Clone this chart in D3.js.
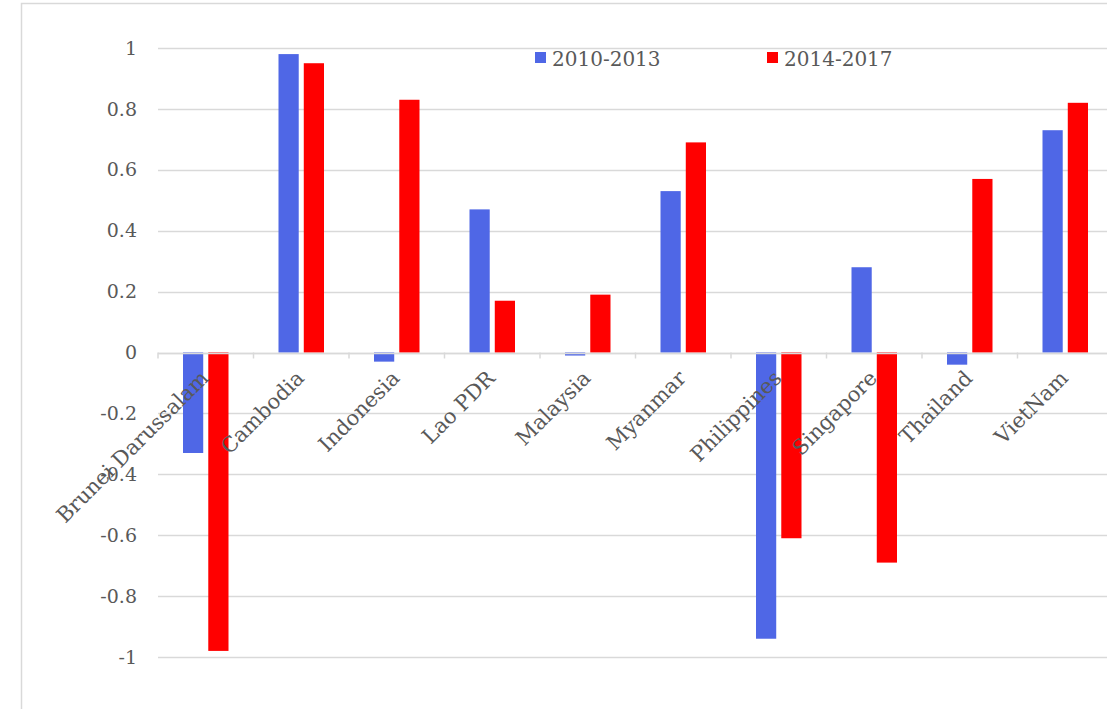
<!DOCTYPE html>
<html><head><meta charset="utf-8">
<script src="https://cdn.jsdelivr.net/npm/d3@7"></script>
<style>body{margin:0;background:#fff}svg{display:block}</style>
</head><body>
<script>
const categories = ["Brunei Darussalam","Cambodia","Indonesia","Lao PDR","Malaysia","Myanmar","Philippines","Singapore","Thailand","VietNam"];
const series1Name = "2010-2013";
const series2Name = "2014-2017";
const series1 = [-0.33, 0.98, -0.03, 0.47, -0.01, 0.53, -0.94, 0.28, -0.04, 0.73];
const series2 = [-0.98, 0.95, 0.83, 0.17, 0.19, 0.69, -0.61, -0.69, 0.57, 0.82];
const yTicks = [1, 0.8, 0.6, 0.4, 0.2, 0, -0.2, -0.4, -0.6, -0.8, -1];

const W = 1107, H = 709;
const svg = d3.select("body").append("svg").attr("width", W).attr("height", H);
const font = "'DejaVu Serif','Liberation Serif',serif";
const textColor = "#595959";

// chart border
svg.append("rect").attr("x", 21.5).attr("y", 3.5).attr("width", 1200).attr("height", 1200)
  .attr("fill", "none").attr("stroke", "#d9d9d9").attr("stroke-width", 1.5);

const x0 = 158, x1 = 158 + 95.5 * 10;
const y = d3.scaleLinear().domain([-1, 1]).range([657, 48]);
const x = d3.scaleBand().domain(categories).range([x0, x1]).paddingInner(0).paddingOuter(0);
const xs = d3.scaleBand().domain([0, 1]).range([25, x.bandwidth() - 25]).paddingInner(0.2);

// gridlines
svg.append("g").selectAll("line").data(yTicks).join("line")
  .attr("x1", x0).attr("x2", x1).attr("y1", d => Math.round(y(d)) + 0.5).attr("y2", d => Math.round(y(d)) + 0.5)
  .attr("stroke", "#d9d9d9").attr("stroke-width", 1.5);

// y labels
svg.append("g").selectAll("text").data(yTicks).join("text")
  .attr("x", 137).attr("y", d => y(d)).attr("dy", "0.35em")
  .attr("text-anchor", "end").attr("font-family", font).attr("font-size", 19)
  .attr("fill", textColor).text(d => String(d));

// category tick marks
svg.append("g").selectAll("line").data(d3.range(categories.length + 1)).join("line")
  .attr("x1", i => x0 + i * x.bandwidth()).attr("x2", i => x0 + i * x.bandwidth())
  .attr("y1", y(0)).attr("y2", y(0) + 6).attr("stroke", "#d9d9d9").attr("stroke-width", 1.5);

const colors = ["#4f67e6", "#ff0000"];
[series1, series2].forEach((s, k) => {
  svg.append("g").selectAll("rect").data(s).join("rect")
    .attr("x", (d, i) => x(categories[i]) + xs(k))
    .attr("width", xs.bandwidth())
    .attr("y", d => y(Math.max(0, d)))
    .attr("height", d => Math.abs(y(d) - y(0)))
    .attr("fill", colors[k]);
});

// zero axis line
svg.append("line").attr("x1", x0).attr("x2", x1).attr("y1", Math.round(y(0)) + 0.5).attr("y2", Math.round(y(0)) + 0.5)
  .attr("stroke", "#d9d9d9").attr("stroke-width", 1.5);

// category labels
svg.append("g").selectAll("text").data(categories).join("text")
  .attr("transform", d => `translate(${x(d) + x.bandwidth() / 2 + 4},${y(0) + 27}) rotate(-45)`)
  .attr("text-anchor", "end").attr("font-family", font).attr("font-size", 21)
  .attr("fill", textColor).text(d => d);

// legend
const legend = [[series1Name, colors[0], 535], [series2Name, colors[1], 767]];
legend.forEach(([name, c, lx]) => {
  svg.append("rect").attr("x", lx).attr("y", 52).attr("width", 11).attr("height", 11).attr("fill", c);
  svg.append("text").attr("x", lx + 17).attr("y", 66).attr("font-family", font).attr("font-size", 20)
    .attr("fill", textColor).text(name);
});
</script>
</body></html>
